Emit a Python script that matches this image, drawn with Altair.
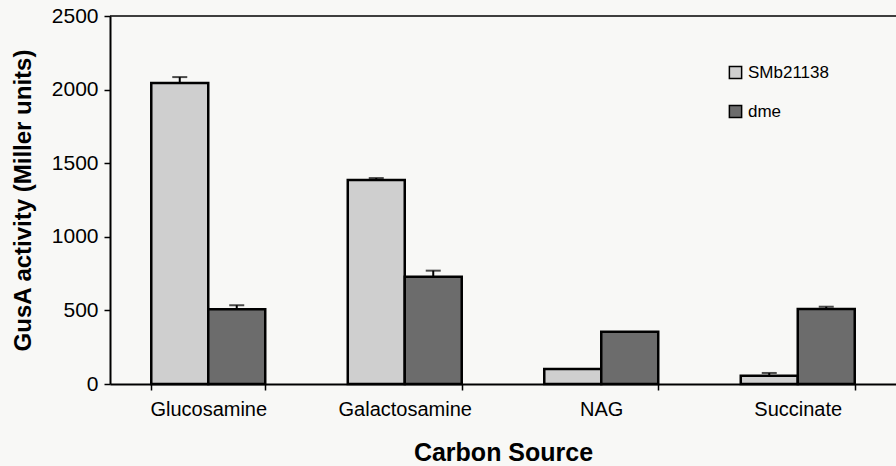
import altair as alt
import pandas as pd

# GusA activity by carbon source for two strains (mean, upper error)
categories = ["Glucosamine", "Galactosamine", "NAG", "Succinate"]
strains = ["SMb21138", "dme"]
smb_values = [2045, 1386, 102, 56]
smb_errors = [40, 13, 0, 19]
dme_values = [507, 729, 355, 510]
dme_errors = [28, 41, 0, 15]

rows = []
for i, cat in enumerate(categories):
    rows.append({"source": cat, "strain": strains[0], "value": smb_values[i], "err": smb_errors[i]})
    rows.append({"source": cat, "strain": strains[1], "value": dme_values[i], "err": dme_errors[i]})
df = pd.DataFrame(rows)
df["top"] = df["value"] + df["err"]

FONT = "Liberation Sans"

x_enc = alt.X(
    "source:N",
    sort=categories,
    scale=alt.Scale(paddingInner=0.42, paddingOuter=0.21),
    axis=alt.Axis(
        title="Carbon Source",
        labelAngle=0,
        labelFontSize=20,
        labelPadding=9,
        tickBand="extent",
        tickSize=6,
        tickColor="black",
        tickWidth=1.5,
        domainColor="black",
        domainWidth=2,
        titleFontSize=25,
        titleFontWeight="bold",
        titlePadding=21,
    ),
)
off_enc = alt.XOffset("strain:N", sort=strains, scale=alt.Scale(paddingInner=0, paddingOuter=0))

base = alt.Chart(df)

bars = base.mark_bar(stroke="black", strokeWidth=2.5).encode(
    x=x_enc,
    xOffset=off_enc,
    y=alt.Y(
        "value:Q",
        scale=alt.Scale(domain=[0, 2500], nice=False),
        axis=alt.Axis(
            title="GusA activity (Miller units)",
            values=[0, 500, 1000, 1500, 2000, 2500],
            format="d",
            grid=False,
            labelFontSize=21,
            labelPadding=6,
            tickSize=6,
            tickColor="black",
            tickWidth=1.5,
            domainColor="black",
            domainWidth=2,
            titleFontSize=24,
            titleFontWeight="bold",
            titleX=-87,
            titleY=184,
            titleBaseline="middle",
        ),
    ),
    color=alt.Color(
        "strain:N",
        sort=strains,
        scale=alt.Scale(domain=strains, range=["#cfcfcf", "#6c6c6c"]),
        legend=alt.Legend(
            title=None,
            orient="none",
            legendX=617,
            legendY=48,
            symbolType="square",
            symbolSize=150,
            symbolStrokeColor="black",
            symbolStrokeWidth=1.5,
            labelFontSize=17,
            labelOffset=4,
            rowPadding=20,
        ),
    ),
)

err_data = base.transform_filter("datum.err > 0")
stems = err_data.mark_rule(color="black", strokeWidth=2).encode(
    x=alt.X("source:N", sort=categories),
    xOffset=off_enc,
    y="value:Q",
    y2="top:Q",
)
caps = err_data.mark_tick(color="black", thickness=2, size=15).encode(
    x=alt.X("source:N", sort=categories),
    xOffset=off_enc,
    y="top:Q",
)

top_line = alt.Chart(pd.DataFrame({"y": [2500]})).mark_rule(color="black", strokeWidth=1.5).encode(
    y="y:Q"
)

chart = (
    alt.layer(bars, stems, caps, top_line)
    .properties(
        width=786,
        height=368,
        autosize=alt.AutoSizeParams(type="none"),
        padding={"left": 110, "top": 16, "right": 0, "bottom": 82},
        background="#f8f8f6",
    )
    .configure_view(strokeWidth=0)
    .configure_axis(labelFont=FONT, titleFont=FONT, labelColor="black", titleColor="black")
    .configure_legend(labelFont=FONT, labelColor="black")
)

chart.save("out.html", embed_options={"renderer": "svg", "actions": False})
